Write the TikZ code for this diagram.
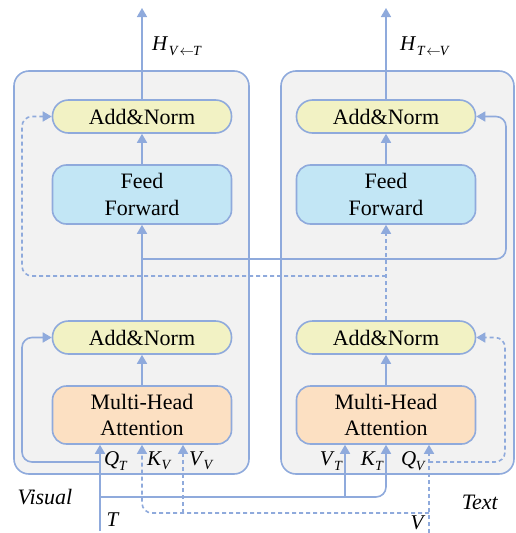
\documentclass[tikz,border=0pt]{standalone}
\usepackage{fontspec}
\setmainfont{LiberationSerif}[Extension=.ttf, UprightFont=*-Regular, ItalicFont=*-Italic, BoldFont=*-Bold, BoldItalicFont=*-BoldItalic]
\usetikzlibrary{arrows.meta}
\definecolor{ln}{RGB}{143,170,220}
\definecolor{panelc}{RGB}{242,242,242}
\definecolor{yel}{RGB}{242,242,196}
\definecolor{blu}{RGB}{194,230,245}
\definecolor{pch}{RGB}{252,224,194}
\newcommand\mylbl[2]{\textit{#1}\kern-0.5pt\raisebox{-0.45ex}{\fontsize{14}{14}\selectfont\textit{#2}}}
\newcommand\myH[2]{\textit{H}\kern0.5pt\raisebox{-0.5ex}{\fontsize{14}{14}\selectfont\textit{#1}\kern1pt$\leftarrow$\kern-1pt\textit{#2}}}
\begin{document}
\begin{tikzpicture}[x=1pt,y=-1pt,
  conn/.style={draw=ln, line width=1.6pt, rounded corners=10pt},
  arr/.style={conn, -{Triangle[width=10pt,length=9pt]}},
  dsh/.style={dash pattern=on 4pt off 3pt},
  panelbox/.style={draw=ln, fill=panelc, line width=1.6pt, rounded corners=15pt},
  basebox/.style={draw=ln, line width=1.6pt, minimum width=179pt, inner sep=0pt, align=center},
  anbox/.style={basebox, fill=yel, rounded corners=16pt, minimum height=33pt, font=\fontsize{22}{24}\selectfont},
  ffbox/.style={basebox, fill=blu, rounded corners=14pt, minimum height=59pt, font=\fontsize{22}{26.5}\selectfont},
  mhbox/.style={basebox, fill=pch, rounded corners=14pt, minimum height=58pt, font=\fontsize{22}{26.5}\selectfont},
  lab/.style={inner sep=0pt, font=\fontsize{22}{24}\selectfont},
  sublab/.style={inner sep=0pt, font=\fontsize{21}{24}\selectfont}
]
\useasboundingbox (0,0) rectangle (516,533);
% panels
\draw[panelbox] (14,71) rectangle (249,474);
\draw[panelbox] (281,71) rectangle (514,474);

% coordinates
\coordinate (outL) at (142,8);
\coordinate (outR) at (386,8);
\coordinate (Tin) at (100,531);
\coordinate (Vin) at (429,533);
\coordinate (brL) at (142,259);
\coordinate (brR) at (386,276);
\coordinate (Tj) at (100,497);
\coordinate (Vj) at (429,513);
\coordinate (qtj) at (100,462);
\coordinate (qvj) at (429,462);

% boxes (left)
\node[anbox] (anL1) at (142,116.5) {Add\&Norm};
\node[ffbox] (ffL) at (142,194.5) {Feed\\Forward};
\node[anbox] (anL2) at (142,337.5) {Add\&Norm};
\node[mhbox] (mhL) at (142,415) {Multi-Head\\Attention};
% boxes (right)
\node[anbox] (anR1) at (386,116.5) {Add\&Norm};
\node[ffbox] (ffR) at (386,194.5) {Feed\\Forward};
\node[anbox] (anR2) at (386,337.5) {Add\&Norm};
\node[mhbox] (mhR) at (386,415) {Multi-Head\\Attention};

% vertical flow
\draw[arr] (anL1.north) -- (outL);
\draw[arr] (ffL.north) -- (anL1.south);
\draw[arr] (anL2.north) -- (ffL.south);
\draw[arr] (mhL.north) -- (anL2.south);
\draw[arr] (anR1.north) -- (outR);
\draw[arr] (ffR.north) -- (anR1.south);
\draw[arr,dsh] (anR2.north) -- (ffR.south);
\draw[arr] (mhR.north) -- (anR2.south);

% cross residuals
\draw[arr] (brL) -- (506,259) -- (506,116.5) -- (anR1.east);
\draw[arr,dsh] (brR) -- (22,276) -- (22,116.5) -- (anL1.west);
% lower residuals
\draw[arr] (qtj) -- (22,462) -- (22,337.5) -- (anL2.west);
\draw[arr,dsh] (qvj) -- (505,462) -- (505,337.5) -- (anR2.east);

% inputs T
\draw[arr] (Tin) -- (mhL.south -| Tin);
\draw[arr] (Tj) -- (386,497) -- (mhR.south -| 386,0);
\draw[arr] (345,497) -- (mhR.south -| 345,0);
% inputs V
\draw[arr,dsh] (Vin) -- (mhR.south -| Vin);
\draw[arr,dsh] (Vj) -- (142,513) -- (mhL.south -| 142,0);
\draw[arr,dsh] (183,513) -- (mhL.south -| 183,0);

% labels
\node[sublab, anchor=west] (hL) at (152,46) {\myH{V}{T}};
\node[sublab, anchor=west] (hR) at (400,46) {\myH{T}{V}};
\node[sublab, anchor=west] (qT) at (104,461) {\mylbl{Q}{T}};
\node[sublab, anchor=west] (kV) at (147,461) {\mylbl{K}{V}};
\node[sublab, anchor=west] (vV) at (189,461) {\mylbl{V}{V}};
\node[sublab, anchor=east] (vT) at (343,461) {\mylbl{V}{T}};
\node[sublab, anchor=east] (kT) at (384,461) {\mylbl{K}{T}};
\node[sublab, anchor=east] (qV) at (426,461) {\mylbl{Q}{V}};
\node[lab] (visual) at (45,497) {\textit{Visual}};
\node[lab] (text) at (480,502) {\textit{Text}};
\node[sublab] (tl) at (113,520) {\textit{T}};
\node[sublab] (vl) at (418,523) {\textit{V}};
\end{tikzpicture}
\end{document}
